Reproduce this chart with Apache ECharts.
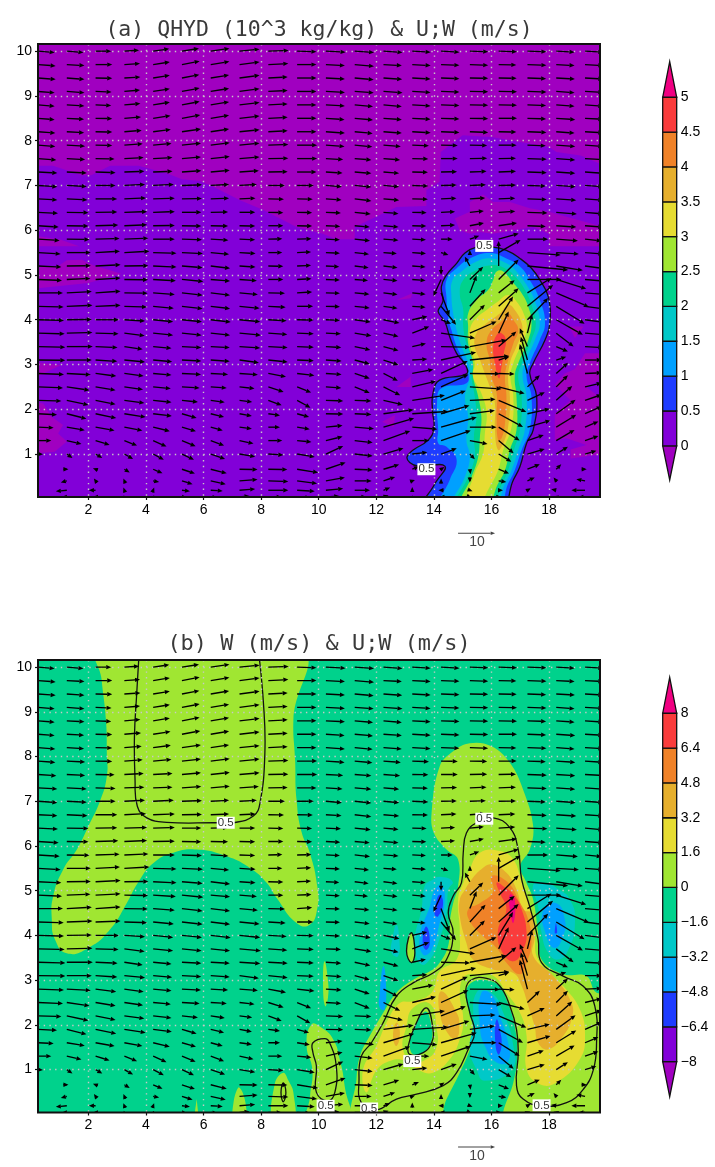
<!DOCTYPE html>
<html><head><meta charset="utf-8">
<script src="https://cdn.jsdelivr.net/npm/echarts@6/dist/echarts.min.js"></script>
<style>html,body{margin:0;padding:0;background:#fff}#c{width:715px;height:1167px}</style>
</head><body><div id="c"></div>
<script>
// Vector grid: arrows start at these points. Values are in 0.09 m/s units.
const X_TAILS=[0.25,1.25,2.25,3.25,4.25,5.25,6.25,7.25,8.25,9.25,10.25,11.25,12.25,13.25,14.25,15.25,16.25,17.25,18.25,19.25];
const Y_LEVELS=[10,9.7,9.4,9.1,8.8,8.5,8.2,7.9,7.6,7.3,7,6.7,6.4,6.1,5.8,5.5,5.2,4.9,4.6,4.3,4,3.7,3.4,3.1,2.8,2.5,2.2,1.9,1.6,1.3,1,0.66,0.4,0.19,0.04];
const REF_VECTOR=111; // 10 m/s
const U=[
[50,50,47,44,48,51,56,60,61,58,59,58,57,55,55,55,55,57,55,55],
[53,53,50,47,50,53,56,60,60,58,57,58,55,55,55,55,53,57,55,55],
[53,53,50,48,50,52,55,60,58,58,57,57,56,55,55,55,54,56,56,55],
[50,53,48,47,50,53,55,60,58,58,57,57,57,55,55,55,55,57,55,55],
[50,53,47,48,50,53,55,60,58,58,57,55,55,55,55,55,55,56,55,55],
[50,52,50,50,52,55,55,60,58,58,56,55,55,55,55,55,55,56,57,55],
[52,52,50,52,53,57,55,60,58,58,57,54,55,55,55,55,53,57,55,55],
[52,55,50,55,55,57,57,60,60,60,56,53,52,50,50,52,54,55,57,55],
[55,55,57,58,58,57,57,60,60,60,52,50,50,48,50,52,52,58,57,57],
[58,60,60,60,58,58,57,58,58,58,50,50,47,47,48,50,52,58,57,57],
[58,60,60,62,62,60,55,52,50,50,48,50,47,48,47,48,52,55,58,55],
[58,62,65,65,65,60,55,48,47,47,47,50,47,47,46,46,50,58,60,55],
[60,65,65,68,65,58,52,47,45,45,45,48,45,43,42,42,50,60,62,55],
[62,65,68,68,65,58,52,47,45,45,43,45,45,42,42,42,55,55,60,55],
[65,68,72,72,65,60,53,47,42,43,42,46,45,41,35,28,60,62,65,50],
[68,72,73,75,70,63,55,48,42,42,42,43,40,41,22,0,66,100,68,55],
[70,72,75,72,70,62,58,48,45,42,40,42,42,40,0,-15,0,122,80,60],
[72,71,75,71,68,64,58,52,45,43,42,40,42,40,-23,40,60,102,90,60],
[75,75,75,70,65,62,58,55,50,45,42,44,42,40,25,20,48,72,98,60],
[77,77,75,68,62,62,58,60,52,48,42,45,42,40,45,47,60,77,85,60],
[78,75,70,62,60,60,60,62,55,50,42,48,48,45,30,45,43,62,80,60],
[80,77,69,61,60,59,58,64,57,50,45,50,45,51,102,80,30,14,52,60],
[82,78,66,55,55,58,57,62,58,50,46,47,45,41,87,110,53,-23,35,55],
[82,75,65,62,57,58,57,58,58,50,47,45,45,45,105,118,32,-20,30,50],
[78,72,62,58,55,57,52,55,53,52,47,45,43,63,80,90,48,-23,35,50],
[75,68,60,56,53,53,48,45,46,42,46,45,50,71,82,95,78,37,35,50],
[70,65,60,60,55,48,42,38,40,40,52,50,58,98,74,77,83,52,48,50],
[57,59,62,64,56,44,40,37,35,36,52,50,90,108,85,75,73,67,58,50],
[47,54,57,54,50,42,36,37,35,38,50,58,92,75,107,80,63,69,60,40],
[40,44,42,38,40,41,40,42,42,43,50,54,80,51,89,53,45,49,55,40],
[15,17,20,26,32,36,43,47,45,53,52,54,60,45,47,15,38,52,35,34],
[0,5,-8,16,28,39,48,54,57,63,59,54,47,20,10,2,31,37,15,5],
[0,-18,-5,-3,18,32,45,54,60,60,57,51,35,8,0,0,23,22,-8,-26],
[0,-33,-20,-3,3,24,36,47,60,53,52,46,20,0,-8,8,13,10,-15,-41],
[0,-15,-8,-2,3,15,20,30,40,40,40,35,15,0,-5,5,8,8,-8,-20]];
const W=[
[-4,-4,0,3,7,8,8,6,2,-2,-3,-4,-4,-3,-3,-2,-2,-2,-3,-3],
[-4,-3,0,3,8,10,9,8,3,0,-3,-5,-3,-3,-2,-2,-1,-2,-3,-3],
[-4,-4,-1,3,8,10,9,8,3,0,-3,-5,-4,-3,-2,-1,-1,-2,-3,-3],
[-4,-4,-2,4,8,10,9,8,3,0,-3,-4,-4,-3,-2,-1,-1,-2,-4,-3],
[-4,-3,-2,4,8,10,9,7,3,0,-3,-5,-5,-3,-2,-1,-1,-2,-4,-4],
[-4,-3,-1,4,8,10,9,7,3,0,-4,-5,-4,-3,-2,-1,0,-2,-4,-3],
[-4,-3,-1,4,7,8,8,6,3,0,-4,-5,-4,-3,-2,-2,-1,-2,-4,-3],
[-4,-3,-1,4,5,6,7,6,2,0,-4,-5,-4,-2,-1,-1,0,-2,-4,-4],
[-4,-3,-1,3,3,5,6,5,1,0,-3,-4,-4,-1,0,1,1,-2,-4,-3],
[-3,-3,-2,2,2,4,5,4,1,0,-3,-4,-4,-1,1,2,2,-2,-4,-4],
[-4,-3,0,3,3,2,3,3,0,0,-4,-5,-4,-2,1,2,1,-2,-4,-4],
[-3,-3,0,3,2,1,2,2,-1,-1,-3,-6,-4,-1,2,3,2,-2,-4,-4],
[-3,-1,1,2,2,0,1,0,-1,-1,-2,-5,-4,-1,2,4,3,-2,-5,-5],
[-4,-1,2,3,1,-1,-1,-1,0,-1,-2,-4,-4,-1,2,8,8,-2,-4,-4],
[-4,-1,2,3,0,-2,-3,-2,1,1,-2,-5,-3,-2,0,10,17,0,-5,-5],
[-4,0,4,4,-2,-3,-5,-3,0,2,-2,-5,-3,-3,-7,8,38,-7,-4,-4],
[-3,1,4,1,-3,-5,-7,-3,-1,2,-2,-5,-5,-3,-27,28,75,-12,-13,-8],
[-3,3,4,-1,-4,-6,-5,-4,0,2,-2,-3,-4,-3,-50,38,60,0,-28,-5],
[0,4,5,-1,-5,-7,-7,-5,-1,3,-1,-4,-5,-4,-68,52,38,45,-42,-5],
[-2,3,3,-2,-6,-7,-7,-6,-3,0,-1,-5,-6,-3,-55,52,54,64,-52,-8],
[-2,1,0,-4,-6,-6,-7,-6,-3,-1,-2,-7,-10,10,-12,45,70,65,-45,-8],
[-2,2,-2,-8,-6,-6,-6,-6,-4,-2,-2,-8,-10,20,-15,35,65,57,-40,-5],
[-2,0,-3,-8,-5,-3,-3,-4,-3,-2,-3,-10,-12,9,-2,20,45,55,-15,-3],
[-1,0,-4,-6,-5,-3,-4,-8,-6,-2,-3,-12,-15,3,23,12,10,70,10,0],
[-3,-4,-8,-8,-5,-3,-3,-4,-10,-6,-3,-15,-22,12,37,-1,-2,88,32,2],
[-3,-10,-10,-8,-5,-3,-3,-5,-15,-17,-3,-18,-25,17,37,-6,-20,35,35,12],
[-2,-14,-12,-8,-6,-5,-6,-5,-15,-22,-2,-2,-13,15,29,3,-35,24,43,17],
[-3,-15,-13,-10,-7,-13,-10,-7,-5,-10,-1,-2,12,7,25,10,-40,15,42,22],
[-2,-9,-10,-10,-12,-12,-10,-5,0,-6,5,-5,27,-6,30,0,-40,20,37,17],
[0,-10,-13,-15,-18,-17,-15,-9,0,-4,12,-6,29,0,30,-10,-38,17,32,14],
[-1,-12,-12,-15,-17,-17,-15,-8,-3,-9,24,-6,17,5,17,-16,-23,15,22,10],
[0,0,3,-10,-12,-13,-12,-1,-1,-10,20,-2,14,8,7,-15,-13,15,15,0],
[0,-5,7,7,-3,-10,-10,4,-2,-8,10,0,12,3,7,-5,-3,10,10,5],
[0,-3,0,8,8,-3,-2,4,0,-3,5,0,8,10,0,-3,0,6,3,0],
[0,0,0,5,5,-2,-2,3,0,-2,3,0,5,5,0,-2,0,3,2,0]];

// Colour scale, lowest band to highest
const BAND_COLORS=['#a000c0','#8200d8','#1e3cff','#00a0ff','#00c8c8','#00d28c','#a0e632','#e6dc32','#e6af2d','#f08228','#fa3c3c','#f00082'];
const QHYD_TICKS=[0,0.5,1,1.5,2,2.5,3,3.5,4,4.5,5];
const W_TICKS=[-8,-6.4,-4.8,-3.2,-1.6,0,1.6,3.2,4.8,6.4,8];
const X_TICKS=[2,4,6,8,10,12,14,16,18];
const Y_TICKS=[1,2,3,4,5,6,7,8,9,10];
const ALL=[[0,-1],[21,-1],[21,11],[0,11]];

// Panel (a): QHYD below zero (top sheet and small patches)
const QN_TOP=[[0,7.44],[0.77,7.44],[1.77,7.23],[2.1,7.23],[2.75,7.44],[3.74,7.44],[4.72,7.27],[5.25,7.14],[5.88,7.1],[6.34,6.97],[7.27,6.67],[8.08,6.45],[9.23,6.07],[10.15,5.92],[10.6,5.8],[11.25,5.8],[11.25,6.07],[12.7,6.52],[13.74,6.54],[13.74,6.9],[14.2,7.08],[14.24,7.75],[15,8.12],[16,8.08],[16.75,8],[18,7.86],[18.26,7.75],[19.1,7.67],[19.9,7.45],[21,7.45],[21,11],[0,11]];
const QN_B=[[14.73,6.26],[15.25,6.41],[15.25,6.63],[15.71,6.8],[16.06,6.63],[16.64,6.63],[17.33,6.49],[18,6.41],[18.6,6.3],[19.9,6.07],[19.9,5.64],[18,5.64],[18,5.92],[17.45,6.07],[16.75,6],[16.06,5.92],[15.6,5.96],[15.25,5.92],[14.9,6]];
const QN_C=[[0,5.89],[1.02,5.79],[1.68,5.64],[0,5.64]];
const QN_D=[[0,4.69],[2,4.82],[3.15,5.03],[2.17,5.22],[1.77,5.34],[1.25,5.33],[0.9,5.18],[0,5.18]];
const QN_E=[[0,3.06],[1.06,2.99],[0,2.67]];
const QN_F=[[0,2.17],[0.43,2.13],[0.72,1.83],[1.12,1.65],[0.95,1.46],[1.25,1.28],[0.83,1.05],[0,1]];
const QN_G=[[12.7,4.44],[13.25,4.59],[13.2,4.48]];
const QN_H=[[12.7,2.5],[13.2,2.73],[13.2,2.5]];
const QN_I=[[12.2,1.72],[12.65,1.87],[12.6,1.6]];
const QN_J=[[18.7,3.85],[19.2,3.85],[18.9,3.59]];
const QN_K=[[18.9,2.9],[19.25,3.25],[19.9,3.25],[19.9,2.7],[19.3,2.5],[19.9,2.2],[19.9,1],[18.75,0.9],[18.75,1.1],[19.3,1.2],[18.6,1.35],[18.2,1.3],[18.2,1.9],[18.75,2.2],[18.2,2.55],[18.55,2.8]];
const QN_PATCHES=[QN_C,QN_D,QN_E,QN_F,QN_G,QN_H,QN_I,QN_J,QN_K,QN_B];

// Panel (a): QHYD storm bands
const Q05=[[13.67,-0.2],[14.03,0.33],[14.38,0.73],[13.45,0.73],[13.16,0.81],[13.07,0.94],[13.28,1.09],[13.8,1.31],[14,1.57],[13.95,1.98],[13.97,2.36],[14.2,2.65],[15.13,2.79],[15.1,2.99],[14.79,3.25],[14.55,3.62],[14.38,3.96],[14.15,4.18],[14.26,4.33],[14.32,4.44],[14.26,4.74],[14.44,5],[14.79,5.26],[15.08,5.49],[15.48,5.62],[16,5.63],[16.52,5.55],[16.99,5.37],[17.39,5.15],[17.68,4.89],[17.97,4.52],[18.03,3.92],[17.86,3.55],[17.45,3.03],[17.33,2.8],[17.57,2.28],[17.45,1.54],[17.22,1.24],[16.99,0.72],[16.76,0.42],[16.3,-0.2]];
const Q10=[[14.2,-0.2],[14.55,0.42],[14.79,0.87],[14.44,1.16],[14.15,1.24],[14.15,1.54],[14.11,2.13],[14.26,2.47],[15.13,2.58],[15.19,2.8],[15.02,3.1],[14.79,3.4],[14.61,3.77],[14.5,4.03],[14.44,4.48],[14.44,4.89],[14.79,5.15],[15.25,5.37],[15.94,5.49],[16.52,5.37],[16.99,5.19],[17.33,4.89],[17.68,4.44],[17.86,3.92],[17.68,3.55],[17.33,3.03],[17.22,2.73],[17.39,2.28],[17.33,1.54],[17.05,1.09],[16.81,0.64],[16.58,0.34],[16.2,-0.2]];
const Q15=[[14.65,-0.2],[15.08,0.49],[15.25,0.94],[15.13,1.31],[15.19,1.83],[15.08,2.28],[15.25,2.73],[15.19,3.03],[14.96,3.4],[14.79,3.77],[14.69,4.07],[14.61,4.52],[14.65,4.89],[14.96,5.08],[15.48,5.3],[16,5.37],[16.52,5.26],[16.87,5.08],[17.22,4.78],[17.51,4.41],[17.68,3.92],[17.51,3.55],[17.16,3.03],[17.08,2.73],[17.22,2.28],[17.16,1.54],[16.93,1.09],[16.7,0.64],[16.47,0.34],[16.05,-0.2]];
const Q20=[[14.75,-0.2],[15.19,0.49],[15.42,0.94],[15.39,1.39],[15.48,1.83],[15.42,2.28],[15.31,2.73],[15.36,3.03],[15.13,3.47],[15.02,3.85],[15.02,4.22],[14.9,4.59],[15.02,4.89],[15.48,5.11],[16,5.22],[16.52,5.13],[16.87,4.93],[17.16,4.67],[17.39,4.33],[17.54,3.92],[17.39,3.55],[17.05,3.03],[16.93,2.73],[17.05,2.28],[16.99,1.54],[16.78,1.09],[16.58,0.64],[16.37,0.34],[15.95,-0.2]];
const Q25=[[14.9,-0.2],[15.31,0.49],[15.54,0.94],[15.6,1.39],[15.65,1.83],[15.54,2.28],[15.36,2.73],[15.36,3.03],[15.19,3.47],[15.19,3.85],[15.19,4.14],[15.48,4.44],[15.89,4.67],[16.06,4.89],[16.18,5.08],[16.41,5.08],[16.76,4.82],[17.05,4.59],[17.28,4.29],[17.39,3.92],[17.28,3.55],[16.93,3.03],[16.81,2.73],[16.87,2.28],[16.87,1.54],[16.64,1.09],[16.47,0.64],[16.23,0.34],[15.8,-0.2]];
const Q30=[[15.1,-0.2],[15.42,0.57],[15.71,1.01],[15.77,1.46],[15.83,1.91],[15.65,2.36],[15.36,2.73],[15.42,3.03],[15.25,3.47],[15.25,3.77],[15.42,4],[15.83,4.22],[16.23,4.41],[16.58,4.55],[16.87,4.41],[17.16,4.07],[17.22,3.77],[17.05,3.47],[16.76,3.03],[16.66,2.73],[16.76,2.28],[16.7,1.61],[16.41,1.09],[16.23,0.64],[15.94,0.27],[15.5,-0.2]];
const Q35=[[16.23,1.09],[16.12,1.54],[16.12,2.13],[15.94,2.51],[15.77,2.8],[15.6,3.1],[15.42,3.4],[15.48,3.7],[15.83,3.92],[16.29,4.14],[16.58,4.33],[16.81,4.22],[17.05,3.92],[17.05,3.7],[16.87,3.4],[16.64,3.03],[16.58,2.65],[16.64,2.28],[16.58,1.61],[16.41,1.24]];
const Q40=[[16.23,1.31],[16.18,1.83],[16.18,2.36],[16,2.73],[15.94,3.1],[15.83,3.47],[16,3.77],[16.41,4],[16.58,4.14],[16.76,4],[16.93,3.77],[16.76,3.47],[16.58,3.1],[16.47,2.73],[16.52,2.28],[16.47,1.69],[16.35,1.35]];
const Q45=[[16.26,2.69],[16.12,3.03],[16.06,3.4],[16.18,3.66],[16.35,3.7],[16.5,3.55],[16.43,3.25],[16.35,2.95]];

// Panel (b): W regions, lime = 0 to 1.6
const WL_UP=[[2.37,10.4],[2.46,9.72],[2.61,8.82],[2.64,8.08],[2.64,7.56],[2.4,7],[2,6.44],[1.6,5.92],[1.13,5.48],[0.78,4.88],[0.73,4.35],[0.84,3.91],[1.25,3.6],[2,3.72],[2.75,4.13],[3.33,4.72],[3.74,5.2],[4.26,5.62],[4.95,5.85],[5.76,5.92],[6.8,5.77],[7.61,5.51],[8.19,5.18],[8.54,4.84],[9.23,4.28],[9.69,4.24],[9.95,4.6],[9.95,5.1],[9.69,5.85],[9.41,6.3],[9.23,7.04],[9.18,7.93],[9.12,8.82],[9.29,10.4]];
const WL_STORM=[[11.25,-0.2],[11.31,0.78],[11.43,1.3],[11.77,1.75],[12.24,2.27],[12.7,2.72],[13.28,3.01],[13.97,3.24],[14.2,3.39],[14.44,3.65],[14.55,3.98],[14.55,4.28],[14.67,4.72],[14.84,5.1],[14.84,5.7],[14.44,5.92],[14,6.29],[13.92,6.74],[14.2,7.78],[14.67,8.12],[15.25,8.3],[16,8.23],[16.64,7.86],[17.1,7.26],[17.45,6.44],[17.33,5.92],[17,5.55],[17.2,5.2],[17.45,4.8],[17.62,4.05],[17.74,3.46],[18.49,3.13],[19.3,3.09],[19.65,2.72],[20.5,2.7],[20.5,-0.5],[16.3,-0.5],[16.41,0.06],[16.76,0.71],[16.9,1.38],[16.76,2.12],[16.52,2.57],[16.29,2.87],[15.83,3],[15.31,2.95],[15.11,2.72],[15.23,2.27],[15.39,1.83],[15.25,1.45],[14.9,0.93],[14.44,0.34],[14.05,-0.2]];
const WL_B=[[9.75,2.01],[10.09,1.94],[10.5,1.68],[10.73,1.23],[10.9,0.64],[11.02,-0.2],[9.64,-0.2],[9.7,0.41],[9.78,1],[9.58,1.53]];
const WL_C=[[7.03,-0.2],[7.05,0.3],[7.21,0.6],[7.35,0.5],[7.47,0.2],[7.47,-0.2]];
const WL_D=[[8.42,-0.2],[8.48,0.7],[8.77,0.93],[8.95,0.75],[9.12,0.49],[9.12,-0.2]];
const WL_E=[[5.65,-0.2],[5.76,0.34],[5.85,-0.2]];
const WL_F=[[10.2,3.42],[10.32,3],[10.32,2.6],[10.22,2.42],[10.15,2.9]];
const WL_G=[[13.22,4.06],[13.34,3.61],[13.22,3.39],[13.05,3.65]];
// yellow = 1.6 to 3.2
const WY=[[15.6,5.85],[16.29,5.89],[16.76,5.7],[17.05,5.18],[17.33,4.66],[17.5,4.05],[17.62,3.46],[18.49,2.87],[19.07,2.35],[19.25,1.75],[19.07,1.23],[18.26,0.71],[17.68,0.67],[17.22,1],[17.22,1.75],[16.99,2.27],[16.52,2.72],[16.06,3.1],[15.5,3.12],[15.08,3.09],[14.9,2.72],[15.02,2.12],[14.9,1.68],[14.55,1.23],[13.97,0.93],[13.51,0.98],[13,1.2],[12.5,1.2],[12,0.98],[11.66,0.49],[11.54,1],[12,1.53],[12.41,2.12],[12.82,2.49],[13.28,2.53],[13.92,2.72],[14.2,3.2],[14.79,3.46],[14.9,4.06],[14.84,4.8],[15.02,5.17],[15.19,5.4]];
const WL_RING=[[13.28,2.38],[13.86,2.47],[14.09,1.94],[14.09,1.5],[13.74,1.23],[13.28,1.19],[12.93,1.45],[13.05,1.97]];
const WG_TEAR=[[13.72,2.3],[13.92,1.97],[13.92,1.66],[13.68,1.4],[13.28,1.34],[13.16,1.6],[13.34,1.97]];
// gold = 3.2 to 4.8
const WO_MAIN=[[15.65,5.48],[16,5.59],[16.52,5.4],[16.87,5.03],[17.1,4.58],[17.39,4.5],[17.5,3.98],[17.45,3.54],[18.15,3.09],[18.78,2.49],[18.78,2.12],[18.49,1.75],[17.97,1.45],[17.62,1.6],[17.5,1.97],[17.28,2.42],[17.05,2.87],[16.76,3.16],[16.06,3.24],[15.36,3.46],[15.13,3.83],[14.9,4.43],[14.9,4.8],[15.08,5.02],[15.31,5.25]];
const WO_LEFT=[[14.26,2.75],[14.79,2.27],[14.88,1.97],[14.79,1.71],[14.55,1.75],[14.2,2.27]];
const WO_SMALL=[[12.7,2.05],[12.82,1.83],[12.7,1.53],[12.58,1.75]];
// orange = 4.8 to 6.4, red = 6.4 to 8, pink above 8
const WR_OR=[[16,5.33],[16.58,5.18],[16.99,4.73],[17.28,4.35],[17.39,3.83],[17.22,3.39],[16.99,3.13],[16.52,3.39],[16.18,3.72],[15.71,3.98],[15.25,4.32],[15.19,4.58],[15.6,4.72],[16.06,4.98]];
const WR_RED=[[16.18,5.18],[16.41,5.1],[16.76,4.92],[17.05,4.58],[17.22,4.06],[17.1,3.68],[16.76,3.42],[16.35,3.65],[16.23,4.13],[16.52,4.58],[16.29,4.95]];
const WR_PINK=[[16.64,4.91],[16.81,4.8],[16.76,4.28],[16.64,4.58]];
// downdraught patches
const WN_L1=[[14.21,5.31],[14.65,5.2],[14.5,5.02],[14.44,4.5],[14.15,3.83],[13.86,3.46],[13.57,3.35],[13.34,3.65],[13.34,3.98],[13.57,4.58],[13.68,5.1],[13.97,5.25]];
const WN_L2=[[14.26,5.13],[14.38,4.8],[14.2,4.28],[13.92,3.68],[13.63,3.57],[13.51,3.98],[13.86,4.65],[14.03,5.02]];
const WN_L3=[[14.2,4.91],[14.32,4.72],[14.15,4.43],[14.03,4.46],[14.07,4.72]];
const WN_L4=[[13.74,4.2],[13.86,3.83],[13.72,3.68],[13.61,3.9]];
const WN_R1=[[17.45,5.13],[17.62,4.65],[17.74,4.06],[17.97,3.61],[18.32,3.46],[18.67,3.68],[18.9,4.28],[18.73,4.8],[18.26,5.06],[17.91,5.17]];
const WN_R2=[[17.8,4.58],[17.91,3.98],[18.2,3.72],[18.49,3.98],[18.55,4.35],[18.26,4.72]];
const WN_R3=[[18.24,4.28],[18.28,4.06],[18.2,4.05]];
const WN_C1=[[15.48,2.72],[16,2.72],[16.41,2.27],[16.76,1.53],[16.7,1],[15.77,0.75],[15.48,1],[15.25,1.45],[15.36,1.97]];
const WN_C2=[[15.65,2.72],[16,2.68],[16.29,2.2],[16.58,1.6],[16.58,1.19],[16.18,1.16],[15.77,1.53],[15.6,1.97]];
const WN_C3=[[16.18,2.12],[16.29,1.9],[16.35,1.53],[16.23,1.34],[16.12,1.75]];
const WN_S1=[[12.7,4.24],[12.58,3.98],[12.53,3.61],[12.76,3.54],[12.79,3.98]];
const WN_S2=[[12.24,3.31],[12.12,2.72],[12.12,2.38],[12.29,2.35],[12.33,3.01]];

// 0.5 contours of panel (b)
const WC_BOX=[[3.77,10.4],[3.68,9.42],[3.6,8.45],[3.62,7.49],[3.7,6.89],[4.03,6.63],[4.72,6.53],[6.46,6.52],[7.03,6.52],[7.73,6.67],[7.96,6.96],[8.13,8.08],[8.08,9.2],[7.9,10.4]];
const WC_STORM=[[11.48,0.26],[11.4,0.78],[11.48,1.3],[11.83,1.6],[12.24,2.05],[12.7,2.64],[13.28,2.94],[13.97,3.16],[14.44,3.46],[14.67,4.06],[14.5,4.5],[14.67,4.88],[14.96,5.18],[15.02,5.85],[15.13,6.29],[15.48,6.52],[16.06,6.63],[16.64,6.41],[16.93,5.92],[17.05,5.25],[17.35,4.6],[17.62,3.91],[17.74,3.39],[18.49,3.09],[19.18,2.87],[19.59,2.42],[19.65,1.6],[19.54,1],[19.19,0.56],[18.61,0.26],[17.74,0.19],[17.1,0.34],[16.87,0.64],[16.93,1.38],[16.87,1.9],[16.64,2.42],[16.29,2.87],[15.83,3.04],[15.31,3.01],[15.11,2.79],[15.25,2.27],[15.42,1.83],[15.19,1.45],[14.79,0.93],[14.32,0.64],[13.4,0.45],[12.7,0.34],[12,0.1]];
const WC_TEAR=[[13.74,2.38],[13.97,1.9],[13.92,1.6],[13.63,1.38],[13.16,1.34],[13.11,1.53],[13.34,1.97]];
const WC_LEFT=[[9.8,1.6],[10.21,1.69],[10.38,1.6],[10.61,1.08],[10.56,0.49],[10.32,0.3],[9.92,0.49],[9.92,1.08],[9.8,1.38]];
const WC_RING=[[8.77,0.7],[8.86,0.49],[8.77,0.28],[8.69,0.49]];
const WC_DROP=[[13.22,4.06],[13.34,3.61],[13.22,3.39],[13.05,3.65]];

// Contour labels
const A_LABELS=[[15.75,5.65],[13.74,0.66]];
const B_LABELS=[[6.77,6.52],[15.75,6.61],[13.25,1.19],[10.24,0.19],[11.75,0.13],[17.74,0.2]];
const REF_A=[14.84,-0.77];
const REF_B=[14.84,-0.73];

const FILLS_A=[[1,ALL,0],[0,QN_TOP,0]].concat(QN_PATCHES.map(p=>[0,p,0]),
  [[2,Q05,.45],[3,Q10,.45],[4,Q15,.45],[5,Q20,.45],[6,Q25,.45],[7,Q30,.45],[8,Q35,.45],[9,Q40,.45],[10,Q45,.45]]);
const FILLS_B=[[5,ALL,0],[6,WL_UP,.5],[6,WL_STORM,.4],[6,WL_B,.5],[6,WL_C,.3],[6,WL_D,.4],[6,WL_E,0],[6,WL_F,.5],[6,WL_G,.5],
  [7,WY,.45],[6,WL_RING,.5],[5,WG_TEAR,.4],[8,WO_MAIN,.45],[8,WO_LEFT,.5],[8,WO_SMALL,.5],[9,WR_OR,.45],[10,WR_RED,.45],[11,WR_PINK,.5],
  [4,WN_L1,.5],[3,WN_L2,.5],[2,WN_L3,.5],[2,WN_L4,.5],[4,WN_R1,.5],[3,WN_R2,.5],[2,WN_R3,.3],[4,WN_C1,.5],[3,WN_C2,.5],[2,WN_C3,.5],[4,WN_S1,.5],[3,WN_S2,.5]];
const LINES_A=[[Q05,true]];
const LINES_B=[[WC_BOX,false],[WC_STORM,true],[WC_TEAR,true],[WC_LEFT,true],[WC_RING,true],[WC_DROP,true]];

const VEC_ROWS=[];
Y_LEVELS.forEach((y,r)=>X_TAILS.forEach((x,c)=>{ if(U[r][c]||W[r][c]) VEC_ROWS.push([x,y,U[r][c],W[r][c]]); }));

const PX_PER_UNIT=1/3;
function arrowShape(api,color,lw,h,w){
  const s=api.coord([api.value(0),api.value(1)]);
  const dx=api.value(2)*PX_PER_UNIT, dy=-api.value(3)*PX_PER_UNIT;
  const e=[s[0]+dx,s[1]+dy];
  const L=Math.hypot(dx,dy)||1, ux=dx/L, uy=dy/L;
  const b=[e[0]-ux*h,e[1]-uy*h];
  return {type:'group',children:[
    {type:'line',shape:{x1:s[0],y1:s[1],x2:b[0],y2:b[1]},style:{stroke:color,lineWidth:lw}},
    {type:'polygon',shape:{points:[e,[b[0]-uy*w,b[1]+ux*w],[b[0]+uy*w,b[1]-ux*w]]},style:{fill:color,stroke:null}}
  ]};
}
function fillSeries(idx,layers){
  return {type:'custom',xAxisIndex:idx,yAxisIndex:idx,clip:true,z:2,animation:false,silent:true,progressive:0,
    data:layers.map((l,i)=>[i]),
    renderItem:(p,api)=>{const l=layers[p.dataIndex];
      return {type:'polygon',shape:{points:l[1].map(q=>api.coord(q)),smooth:l[2]||undefined},style:{fill:BAND_COLORS[l[0]],stroke:null}};}};
}
function lineSeries(idx,lines){
  return {type:'custom',xAxisIndex:idx,yAxisIndex:idx,clip:true,z:3,animation:false,silent:true,progressive:0,
    data:lines.map((l,i)=>[i]),
    renderItem:(p,api)=>{const l=lines[p.dataIndex];
      return {type:l[1]?'polygon':'polyline',shape:{points:l[0].map(q=>api.coord(q)),smooth:.45},style:{fill:null,stroke:'#111',lineWidth:1.3}};}};
}
function vecSeries(idx){
  return {type:'custom',xAxisIndex:idx,yAxisIndex:idx,clip:true,z:5,animation:false,silent:true,progressive:0,
    dimensions:['x','y','u','w'],encode:{x:0,y:1},data:VEC_ROWS,
    renderItem:(p,api)=>arrowShape(api,'#000',1.35,5,2.2)};
}
function labelSeries(idx,labels){
  return {type:'custom',xAxisIndex:idx,yAxisIndex:idx,z:6,animation:false,silent:true,progressive:0,
    data:labels,encode:{x:0,y:1},
    renderItem:(p,api)=>{const c=api.coord([api.value(0),api.value(1)]);
      return {type:'text',style:{text:'0.5',x:c[0],y:c[1],align:'center',verticalAlign:'middle',font:'11.5px "Liberation Sans"',fill:'#333',backgroundColor:'#fff',padding:[0,1]}};}};
}
function refSeries(idx,pt){
  return {type:'custom',xAxisIndex:idx,yAxisIndex:idx,z:6,animation:false,silent:true,clip:false,
    data:[[pt[0],pt[1],REF_VECTOR,0]],encode:{x:0,y:1},
    renderItem:(p,api)=>{const g=arrowShape(api,'#444',1.1,4.4,1.8);const s=api.coord([api.value(0),api.value(1)]);
      g.children.push({type:'text',style:{text:'10',x:s[0]+19,y:s[1]+9,align:'center',verticalAlign:'middle',font:'14px "Liberation Sans"',fill:'#444'}});
      return g;}};
}
function barSeries(idx,ticks,lo,hi){
  // cells between ticks plus one triangle at each end
  const cells=[[lo,ticks[0],0]];
  for(let i=0;i<ticks.length-1;i++) cells.push([ticks[i],ticks[i+1],i+1]);
  cells.push([ticks[ticks.length-1],hi,11]);
  return {type:'custom',xAxisIndex:idx,yAxisIndex:idx,z:4,animation:false,silent:true,clip:false,
    data:cells,renderItem:(p,api)=>{
      const a=api.value(0),b=api.value(1),k=api.value(2);
      const st={fill:BAND_COLORS[k],stroke:'#111',lineWidth:1.3};
      let pts;
      if(p.dataIndex===0) pts=[[0,b],[1,b],[.5,a]];
      else if(k===11) pts=[[0,a],[1,a],[.5,b]];
      else pts=[[0,a],[1,a],[1,b],[0,b]];
      return {type:'polygon',shape:{points:pts.map(q=>api.coord(q))},style:st};
    }};
}
const titleFont={fontFamily:'"DejaVu Sans Mono"',fontWeight:'normal',color:'#3a3a3a'};
const axisFont={fontFamily:'"Liberation Sans"',fontSize:14,color:'#000'};
const dots={show:true,lineStyle:{color:'#c8c8c8',width:1.4,type:[1.4,4.3]}};
function mainX(gi){return {gridIndex:gi,type:'value',min:0.25,max:19.77,z:4,
  axisLine:{show:false},axisTick:{show:true,length:3,customValues:X_TICKS,lineStyle:{color:'#111',width:1.2}},
  axisLabel:Object.assign({customValues:X_TICKS,margin:6},axisFont),splitLine:dots};}
function mainY(gi){return {gridIndex:gi,type:'value',min:0.04,max:10.16,z:4,
  axisLine:{show:false},axisTick:{show:true,length:3,customValues:Y_TICKS,lineStyle:{color:'#111',width:1.2}},
  axisLabel:Object.assign({customValues:Y_TICKS,margin:6},axisFont),splitLine:dots};}
function barX(gi){return {gridIndex:gi,type:'value',min:0,max:1,show:false};}
function barY(gi,lo,hi,ticks){return {gridIndex:gi,type:'value',min:lo,max:hi,position:'right',
  axisLine:{show:false},axisTick:{show:false,customValues:ticks},splitLine:{show:false},
  axisLabel:{customValues:ticks,margin:4,fontFamily:'"Liberation Sans"',fontSize:14,color:'#000',
    formatter:v=>String(v).replace('-','\u2212')}};}

const chart=echarts.init(document.getElementById('c'),null,{renderer:'canvas'});
const frame={show:true,backgroundColor:'transparent',borderColor:'#111',borderWidth:2,z:8};
chart.setOption({
  animation:false,backgroundColor:'#fff',
  title:[
    {text:'(a) QHYD (10^3 kg/kg) & U;W (m/s)',left:314,top:14,textAlign:'center',textStyle:Object.assign({fontSize:21.5},titleFont)},
    {text:'(b) W (m/s) & U;W (m/s)',left:314,top:628,textAlign:'center',textStyle:Object.assign({fontSize:21.9},titleFont)}
  ],
  grid:[
    Object.assign({left:38,top:44,width:562,height:453},frame),
    Object.assign({left:38,top:660,width:562,height:452.5},frame),
    {left:662.7,top:61.7,width:14,height:418.3},
    {left:662.7,top:677.3,width:14,height:419.4}
  ],
  xAxis:[mainX(0),mainX(1),barX(2),barX(3)],
  yAxis:[mainY(0),mainY(1),barY(2,-0.49,5.51,QHYD_TICKS),barY(3,-9.61,9.65,W_TICKS)],
  series:[
    fillSeries(0,FILLS_A),lineSeries(0,LINES_A),vecSeries(0),labelSeries(0,A_LABELS),refSeries(0,REF_A),
    fillSeries(1,FILLS_B),lineSeries(1,LINES_B),vecSeries(1),labelSeries(1,B_LABELS),refSeries(1,REF_B),
    barSeries(2,QHYD_TICKS,-0.49,5.51),barSeries(3,W_TICKS,-9.61,9.65)
  ]
});
</script></body></html>
